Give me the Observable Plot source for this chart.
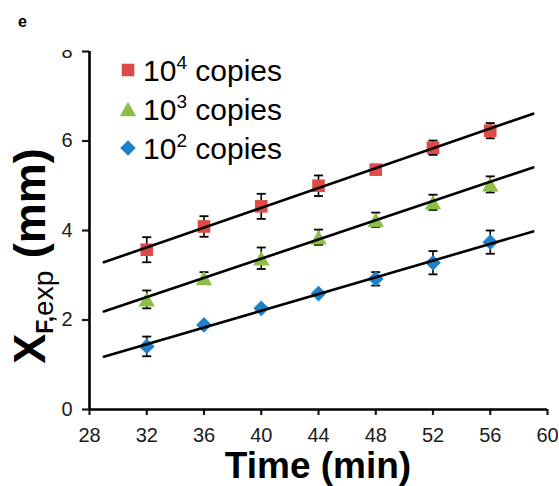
<!DOCTYPE html>
<html>
<head>
<meta charset="utf-8">
<script src="https://cdn.jsdelivr.net/npm/d3@7"></script>
<script src="https://cdn.jsdelivr.net/npm/@observablehq/plot@0.6"></script>
<style>
  body { margin: 0; background: #fff; }
  #chart svg { display: block; }
</style>
</head>
<body>
<div id="chart"></div>
<script>
// ---- data ----
const times = [32, 36, 40, 44, 48, 52, 56];
const copies1e4 = [3.57, 4.09, 4.54, 5.00, 5.36, 5.85, 6.23];
const err1e4    = [0.28, 0.23, 0.28, 0.23, 0.05, 0.16, 0.17];
const copies1e3 = [2.46, 2.94, 3.38, 3.85, 4.24, 4.63, 5.03];
const err1e3    = [0.20, 0.13, 0.24, 0.17, 0.16, 0.17, 0.18];
const copies1e2 = [1.41, 1.89, 2.26, 2.59, 2.92, 3.28, 3.74];
const err1e2    = [0.22, 0.05, 0.05, 0.05, 0.15, 0.26, 0.26];
const fitTimes  = [29, 59];
const fit1e4    = [3.29, 6.61];
const fit1e3    = [2.19, 5.41];
const fit1e2    = [1.18, 3.98];
const xTicks = [28, 32, 36, 40, 44, 48, 52, 56, 60];
const yTicks = [0, 2, 4, 6, 8];
const legendBase = ["10", "10", "10"];
const legendExp = ["4", "3", "2"];
const legendWord = [" copies", " copies", " copies"];
const colors = ["#DE4B46", "#8DBE46", "#1E80C8"];

// ---- marker shapes (Excel-like, centred on bounding box) ----
const squareSym = { draw(ctx) { const a = 6.3; ctx.moveTo(-a, -a); ctx.lineTo(a, -a); ctx.lineTo(a, a); ctx.lineTo(-a, a); ctx.closePath(); } };
const triangleSym = { draw(ctx) { const w = 8.2, h = 7.2; ctx.moveTo(0, -h); ctx.lineTo(w, h); ctx.lineTo(-w, h); ctx.closePath(); } };
const diamondSym = { draw(ctx) { const a = 7.8; ctx.moveTo(0, -a); ctx.lineTo(a, 0); ctx.lineTo(0, a); ctx.lineTo(-a, 0); ctx.closePath(); } };
const capSym = { draw(ctx) { ctx.moveTo(-4.5, 0); ctx.lineTo(4.5, 0); } };

const series = [
  { key: "1e4", values: copies1e4, err: err1e4, fit: fit1e4, sym: squareSym, color: colors[0] },
  { key: "1e3", values: copies1e3, err: err1e3, fit: fit1e3, sym: triangleSym, color: colors[1] },
  { key: "1e2", values: copies1e2, err: err1e2, fit: fit1e2, sym: diamondSym, color: colors[2] }
];
const rows = series.flatMap(s => times.map((t, i) => ({ t, v: s.values[i], e: s.err[i], key: s.key })));
const fitRows = series.flatMap(s => fitTimes.map((t, i) => ({ t, v: s.fit[i], key: s.key })));

const FONT = "'Liberation Sans', Arial, sans-serif";

const plot = Plot.plot({
  width: 559,
  height: 486,
  marginLeft: 89,
  marginRight: 12,
  marginTop: 51,
  marginBottom: 77,
  style: { fontFamily: FONT, background: "#fff", color: "#1a1a1a", overflow: "visible" },
  x: { domain: [28, 60] },
  y: { domain: [0, 8] },
  marks: [
    Plot.axisX({ ticks: xTicks, tickSize: 6, tickPadding: 12, fontSize: 20, strokeWidth: 2.2, label: null, tickFormat: d => String(d) }),
    Plot.axisY({ ticks: yTicks, tickSize: 7, tickPadding: 10, fontSize: 20, strokeWidth: 2.2, label: null, tickFormat: d => String(d) }),
    Plot.ruleX([28], { stroke: "#000", strokeWidth: 2.6 }),
    Plot.ruleY([0], { stroke: "#000", strokeWidth: 2.6 }),
    Plot.ruleX(rows, { x: "t", y1: d => d.v - d.e, y2: d => d.v + d.e, stroke: "#000", strokeWidth: 1.6 }),
    Plot.dot(rows, { x: "t", y: d => d.v + d.e, symbol: capSym, stroke: "#000", strokeWidth: 1.8, r: 4 }),
    Plot.dot(rows, { x: "t", y: d => d.v - d.e, symbol: capSym, stroke: "#000", strokeWidth: 1.8, r: 4 }),
    ...series.map(s => Plot.dot(rows.filter(r => r.key === s.key), { x: "t", y: "v", symbol: s.sym, fill: s.color, stroke: "none", r: 6 })),
    Plot.line(fitRows, { x: "t", y: "v", z: "key", stroke: "#000", strokeWidth: 2.6 })
  ]
});

document.getElementById("chart").appendChild(plot);

const svg = d3.select(plot);

// cropped top edge of the original figure (hides upper half of "8")
svg.append("rect").attr("x", 50).attr("y", 30).attr("width", 37).attr("height", 20).attr("fill", "#fff");

// panel letter
svg.append("text").attr("x", 18).attr("y", 27).attr("text-anchor", "start").attr("font-family", FONT).attr("font-weight", "bold").attr("font-size", 16).attr("fill", "#000").text("e");

// legend
const legendRowsY = [70, 109, 148];
series.forEach((s, i) => {
  const g = svg.append("g");
  g.append("path").attr("transform", `translate(128,${legendRowsY[i]})`).attr("d", d3.symbol().type(s.sym)()).attr("fill", s.color);
  const t = g.append("text").attr("x", 143).attr("y", legendRowsY[i] + 11).attr("text-anchor", "start").attr("font-family", FONT).attr("font-size", 30).attr("fill", "#000");
  t.append("tspan").text(legendBase[i]);
  t.append("tspan").attr("font-size", 19).attr("dy", -12).text(legendExp[i]);
  t.append("tspan").attr("dy", 12).text(legendWord[i]);
});

// x-axis title
svg.append("text").attr("x", 318).attr("y", 478).attr("text-anchor", "middle").attr("font-family", FONT).attr("font-weight", "bold").attr("font-size", 37).attr("fill", "#000").text("Time (min)");

// y-axis title
const yt = svg.append("text").attr("transform", "translate(45,256) rotate(-90)").attr("text-anchor", "middle").attr("font-family", FONT).attr("fill", "#000");
yt.append("tspan").attr("font-weight", "bold").attr("font-size", 45).text("X");
yt.append("tspan").attr("font-weight", "bold").attr("font-size", 23).attr("dy", 8).text("F,");
yt.append("tspan").attr("font-size", 28).text("exp");
yt.append("tspan").attr("font-weight", "bold").attr("font-size", 45).attr("dy", -8).text(" (mm)");
</script>
</body>
</html>
